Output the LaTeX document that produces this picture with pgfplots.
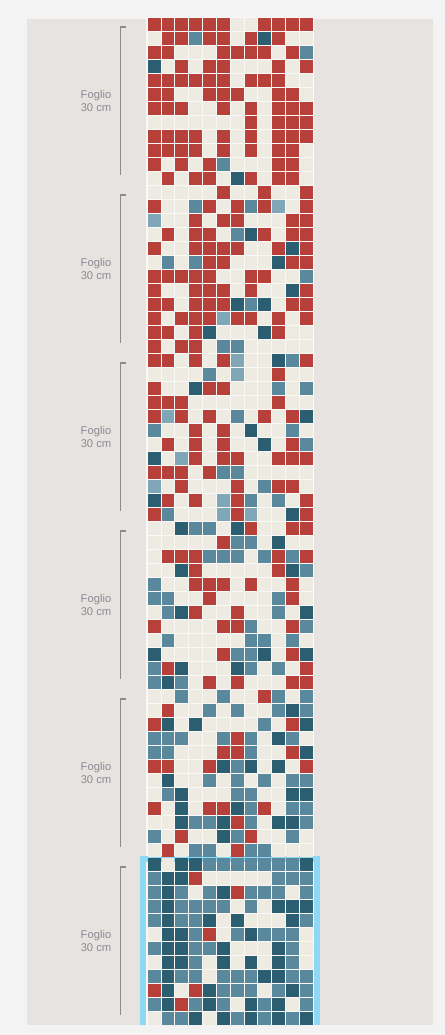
\documentclass[border=0pt]{standalone}
\usepackage{pgfplots}
\usepackage{pgfplotstable}
\pgfplotsset{compat=1.18}
\usepackage{fontspec}
\setmainfont{Liberation Sans}
\definecolor{outerbg}{HTML}{F3F3F3}
\definecolor{panel}{HTML}{E7E3E1}
\definecolor{gapc}{HTML}{FAF9F6}
\definecolor{cw}{HTML}{EEEBE3}
\definecolor{cr}{HTML}{B7403A}
\definecolor{cd}{HTML}{2C5E72}
\definecolor{cm}{HTML}{5A889C}
\definecolor{cl}{HTML}{80A7B7}
\definecolor{hl}{HTML}{8FD8F5}
\definecolor{brk}{HTML}{8C8C8C}
\definecolor{lbl}{HTML}{8A8A92}

% grid of cells: row index, then class of columns 0..11
% W = empty, R = red, D = dark blue, M = mid blue, L = light blue
\pgfplotstableread{
row c0 c1 c2 c3 c4 c5 c6 c7 c8 c9 c10 c11
0 R R R R R R W W R R R R
1 W R R M R R W R D R W W
2 R R W W W R R R R W R M
3 D W R W R R W W W R W R
4 R R R R R R W R R R W W
5 R R W W R R R W W R R W
6 R R R W W R W R W R R R
7 W W W W W W W R W R R R
8 R R R R W R W R W R R R
9 R R R R W R W R W R R W
10 R W R W R M W W W R R W
11 W R W R R W D R W R R W
12 W W W W W R W W R W W R
13 R W W M R W R M R L W R
14 L W W R W R R W W W R R
15 W R W R R W M D R W R R
16 R W W R R R R W W R D R
17 W M W M R R W W W D R R
18 R R R R R W W R R W W M
19 R W W R R R W R W W D R
20 R R W R R R D M D W R R
21 R W R R R L R R W R W R
22 R R W R D W W W D R W W
23 R W R R W M M W W W W W
24 R R W R W R L W W D M R
25 W W W W M W L W W R W W
26 R W W D R R W W W M W M
27 R R R W W W W W W R W W
28 R L R W R W M W R W R D
29 M W W R W R W D W W M W
30 W R W R W R W W D W R M
31 D W L R W R R W W R R R
32 R R R W R M M W W W W W
33 L W R W W W R W M R R W
34 D R W R W L R M W M W R
35 R M W W W L R L W W D R
36 W W D M M W D R W W R R
37 W W W W W R M M W D W W
38 W R R R M M M W M R M R
39 W W D R W W W W W R D M
40 M W W R R R W R W W R W
41 M M W W R W W W W M R W
42 W M D R W W R W W M W D
43 R W W W W R R M W W R M
44 W M W W W W W M M W M W
45 D W W W W R M M D W R D
46 M R D W W W D M W M W R
47 M D M W R W R W W W R R
48 W W M W W M W W R M W M
49 W R W W M W M W W M D M
50 R D W D W W W W M W R D
51 M M M W W M R M W D M W
52 M M W W W R R M W W R D
53 R R W W R D M D W D W R
54 W D W W M W M W M W M M
55 W M D W W W M M W W D D
56 R W D W R R D M R W M M
57 W W D M M D R M W D D M
58 M W R W W D M R W W M W
59 W R W M M W R M M W W W
60 D W D D M M M M M M M D
61 M D D R W W W W W M M M
62 M D M W M D R M M M W M
63 M D M M M M W M W D D D
64 M D M M D W D W W W D M
65 W D D M R W M D M M M W
66 M D D M M D W W W D M W
67 W D D M W D W D W D M W
68 M D M M W M M M D D M M
69 R D W R D M M M W M D M
70 M D R M D M W D M D W M
71 W M M D W D M D M D M D
}\gridtable

\pgfplotsset{
  cellclasses/.style={
    scatter, only marks, scatter src=explicit symbolic,
    mark size=2.95pt,
    scatter/classes={
      W={mark=square*, draw=cw, fill=cw, line width=0.2pt},
      R={mark=square*, draw=cr, fill=cr, line width=0.2pt},
      D={mark=square*, draw=cd, fill=cd, line width=0.2pt},
      M={mark=square*, draw=cm, fill=cm, line width=0.2pt},
      L={mark=square*, draw=cl, fill=cl, line width=0.2pt}
    }
  }
}

\begin{document}
\begin{tikzpicture}
\begin{axis}[
  width=222.5pt, height=517.5pt, scale only axis,
  xmin=0, xmax=445, ymin=0, ymax=1035, y dir=reverse,
  hide axis, clip=false
]
% backgrounds
\fill[outerbg] (axis cs:0,0) rectangle (axis cs:445,1035);
\fill[panel] (axis cs:27,19) rectangle (axis cs:433,1025);
\fill[gapc] (axis cs:146,17) rectangle (axis cs:314,1025);

% cells
\pgfplotsinvokeforeach{0,...,11}{
  \addplot[cellclasses] table[
    x expr={147+13.83*(#1+0.5)},
    y expr={17+14*(\thisrow{row}+0.5)},
    meta=c#1] {\gridtable};
}

% highlight box (last sheet)
\draw[hl, line width=3pt] (axis cs:142.5,1025) -- (axis cs:142.5,858.5) -- (axis cs:316.5,858.5) -- (axis cs:316.5,1025);

% brackets and labels
\pgfplotsinvokeforeach{0,...,5}{
  \draw[brk, line width=0.75pt] (axis cs:125.5,{27+168*#1}) -- (axis cs:120.5,{27+168*#1}) -- (axis cs:120.5,{175+168*#1});
  \node[lbl, align=center, font=\fontsize{5.6}{6.2}\selectfont, inner sep=0pt] at (axis cs:96,{101+168*#1}) {Foglio\\30 cm};
}
\end{axis}
\end{tikzpicture}
\end{document}
